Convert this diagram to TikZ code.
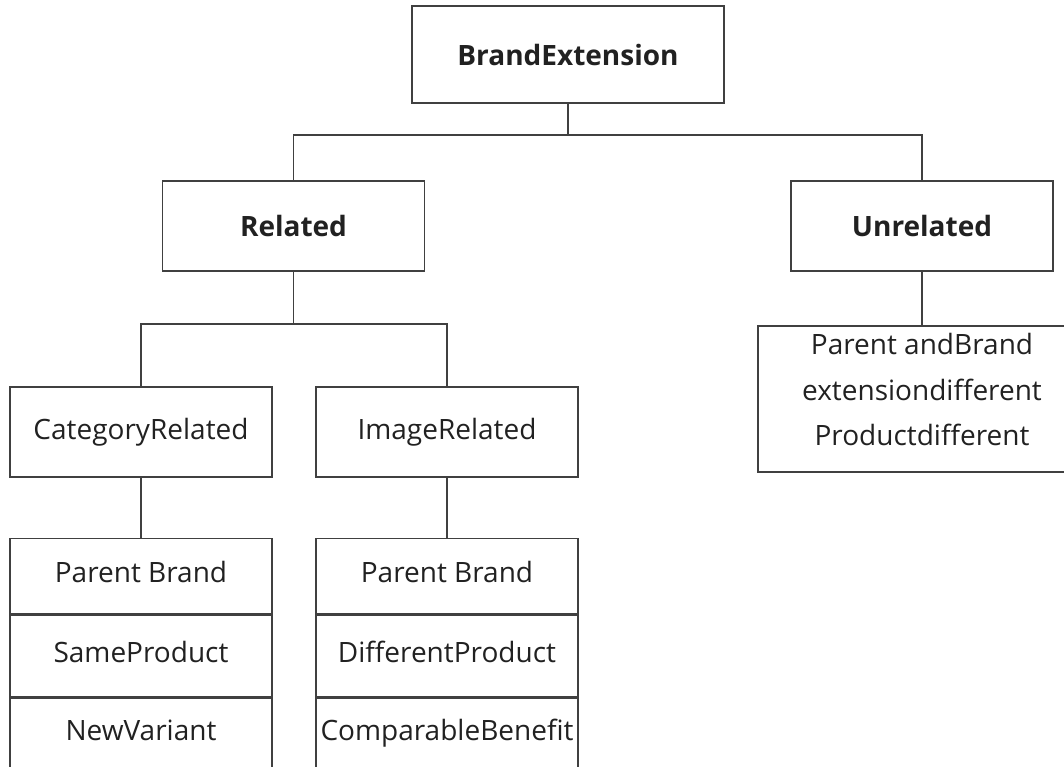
\documentclass[tikz,border=0pt]{standalone}
\usepackage{fontspec}
\setmainfont{Open Sans}
\usetikzlibrary{positioning}
\definecolor{linegray}{rgb}{0.25,0.25,0.25}
\definecolor{textdark}{rgb}{0.13,0.13,0.13}

\begin{document}
\begin{tikzpicture}[x=0.75pt,y=-0.75pt,
  box/.style={draw=linegray,line width=1.1pt,text=textdark,inner sep=0pt,
    minimum width=196.5pt,minimum height=67.5pt,font=\fontsize{21}{24}\selectfont},
  headbox/.style={box,font=\bfseries\fontsize{21}{24}\selectfont},
  cell/.style={box,minimum height=56.25pt,text height=15pt,text depth=5pt},
  wire/.style={draw=linegray,line width=1.1pt}]
\useasboundingbox (0,0) rectangle (1064,767);
\clip (0,0) rectangle (1064,767);

\node[headbox,minimum width=234pt,minimum height=72.75pt] (brand) at (568,54.5) {BrandExtension};
\node[headbox] (rel) at (293.5,226) {Related};
\node[headbox] (unrel) at (922,226) {Unrelated};
\node[box] (cat) at (141,432) {CategoryRelated};
\node[box] (img) at (447,432) {ImageRelated};

% tables under the two related kinds
\node[cell,anchor=north] (c1) at (141,538) {Parent Brand};
\node[cell,minimum height=61.5pt,below=0pt of c1] (c2) {SameProduct};
\node[cell,minimum height=52pt,below=0pt of c2] (c3) {NewVariant};
\node[cell,anchor=north] (i1) at (447,538) {Parent Brand};
\node[cell,minimum height=61.5pt,below=0pt of i1] (i2) {DifferentProduct};
\node[cell,minimum height=52pt,below=0pt of i2] (i3) {ComparableBenefit};

\node[box,align=center,minimum width=246pt,minimum height=109.5pt,text depth=14pt,
  font=\fontsize{21}{34}\selectfont] (diff) at (922,399)
  {Parent andBrand\\extensiondifferent\\Productdifferent};

\coordinate (j1) at (567,135);
\coordinate (j2) at (293.5,324);
\draw[wire] (brand.south) -- (brand.south |- j1);
\draw[wire] (rel.north) -- (rel.north |- j1) -- (unrel.north |- j1) -- (unrel.north);
\draw[wire] (rel.south) -- (j2);
\draw[wire] (cat.north) -- (cat.north |- j2) -- (img.north |- j2) -- (img.north);
\draw[wire] (cat.south) -- (c1.north);
\draw[wire] (img.south) -- (i1.north);
\draw[wire] (unrel.south) -- (diff.north);

\end{tikzpicture}
\end{document}
